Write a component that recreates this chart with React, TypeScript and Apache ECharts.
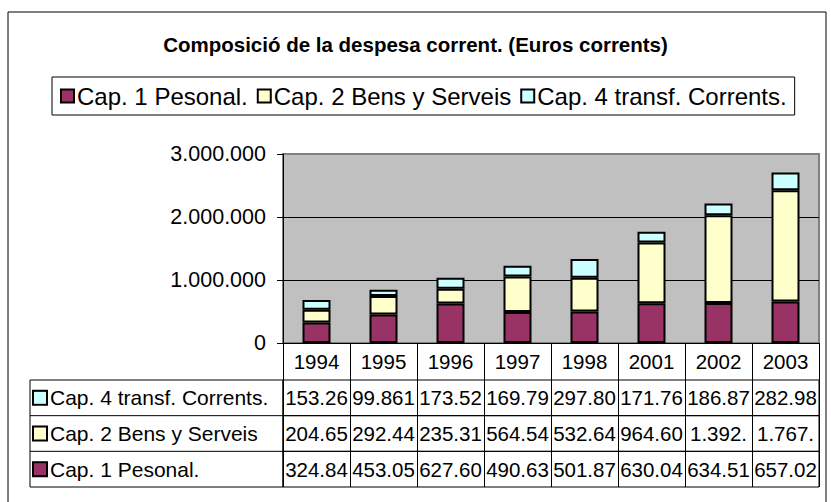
import React, { useEffect, useRef } from 'react';
import * as echarts from 'echarts';

const years = ['1994', '1995', '1996', '1997', '1998', '2001', '2002', '2003'];
const personal = [324845, 453052, 627604, 490635, 501873, 630042, 634515, 657024];
const bens = [204653, 292446, 235314, 564542, 532647, 964605, 1392500, 1767500];
const transf = [153264, 99861, 173525, 169795, 297806, 171768, 186876, 282984];
const seriesNames = ['Cap. 1 Pesonal.', 'Cap. 2 Bens y Serveis', 'Cap. 4 transf. Corrents.'];
const seriesColors = ['#993366', '#FFFFCC', '#CCFFFF'];
const yMax = 3000000;
const yStep = 1000000;
const titleText = 'Composició de la despesa corrent. (Euros corrents)';

const FONT = "'Liberation Sans', Arial, sans-serif";
const fmt = (v: number) => String(Math.round(v)).replace(/\B(?=(\d{3})+(?!\d))/g, '.');
const cellText = (v: number) => fmt(v).slice(0, 6);

export default function App() {
  const ref = useRef<HTMLDivElement>(null);
  useEffect(() => {
    if (!ref.current) return;
    const chart = echarts.init(ref.current, null, { renderer: 'svg' });
    const PL = 283, PW = 536, PT = 154, PH = 189;
    const rowTop0 = 380, rowH = 35.67;
    const labelLeft = 30;
    const seriesData = [personal, bens, transf];
    const tableRows = [2, 1, 0].map((k) => ({ name: seriesNames[k], color: seriesColors[k], data: seriesData[k] }));

    const option: any = {
      animation: false,
      backgroundColor: '#fff',
      textStyle: { fontFamily: FONT },
      title: {
        text: titleText,
        left: 'center',
        top: 34,
        padding: 0,
        textStyle: { fontSize: 20.5, fontWeight: 'bold', fontFamily: FONT, color: '#000' },
      },
      legend: {
        data: seriesNames,
        left: 52,
        top: 77,
        padding: [7, 8, 7, 8],
        itemWidth: 13,
        itemHeight: 13,
        itemGap: 9,
        icon: 'rect',
        borderColor: '#000',
        borderWidth: 1,
        textStyle: { fontSize: 24, fontFamily: FONT, color: '#000', padding: [0, 0, 0, -2] },
      },
      grid: [
        { left: PL, top: PT, width: PW, height: PH, show: true, backgroundColor: '#C0C0C0', borderColor: '#808080', borderWidth: 2 },
        ...tableRows.map((_, i) => ({
          left: PL, top: rowTop0 + i * rowH, width: PW, height: rowH,
          show: true, borderColor: '#000', borderWidth: 1, backgroundColor: 'transparent',
        })),
      ],
      xAxis: [
        {
          type: 'category', gridIndex: 0, data: years,
          axisLine: { show: true, lineStyle: { color: '#000', width: 1 } },
          axisTick: { show: true, length: 37, interval: 0, lineStyle: { color: '#000', width: 1 } },
          axisLabel: { interval: 0, color: '#000', fontSize: 20.5, fontFamily: FONT, margin: 18.5, verticalAlign: 'middle' },
        },
        ...tableRows.map((r, i) => ({
          type: 'category', gridIndex: i + 1, data: years,
          axisLine: { show: false }, axisTick: { show: false },
          splitLine: { show: true, interval: 0, lineStyle: { color: '#000', width: 1 } },
          axisLabel: {
            inside: true, interval: 0, margin: rowH / 2, verticalAlign: 'middle',
            color: '#000', fontSize: 20.5, fontFamily: FONT,
            formatter: (_v: string, idx: number) => cellText(r.data[idx]),
          },
        })),
      ],
      yAxis: [
        {
          type: 'value', gridIndex: 0, min: 0, max: yMax, interval: yStep,
          axisLine: { show: true, lineStyle: { color: '#000', width: 1 } },
          axisTick: { show: true, length: 6, lineStyle: { color: '#000' } },
          splitLine: { show: true, showMaxLine: false, showMinLine: false, lineStyle: { color: '#000', width: 1 } },
          axisLabel: { formatter: (v: number) => fmt(v), color: '#000', fontSize: 21.5, fontFamily: FONT, margin: 17 },
        },
        ...tableRows.map((r, i) => ({
          type: 'category', gridIndex: i + 1, data: [r.name],
          axisLine: { show: false }, axisTick: { show: false }, splitLine: { show: false },
          axisLabel: {
            align: 'left', margin: PL - 34,
            formatter: () => `{sq|}{t|${r.name}}`,
            rich: {
              sq: { width: 12, height: 12, backgroundColor: r.color, borderColor: '#000', borderWidth: 2 },
              t: { fontSize: 21, fontFamily: FONT, color: '#000', padding: [0, 0, 0, 4] },
            },
          },
        })),
      ],
      graphic: [
        { type: 'rect', shape: { x: 8, y: 12, width: 818, height: 520 }, style: { fill: 'none', stroke: '#000', lineWidth: 1 }, z: 100 },
        { type: 'rect', shape: { x: labelLeft, y: rowTop0, width: PL - labelLeft, height: rowH * 3 }, style: { fill: 'none', stroke: '#000', lineWidth: 1 }, z: 100 },
        { type: 'line', shape: { x1: labelLeft, y1: rowTop0 + rowH, x2: PL, y2: rowTop0 + rowH }, style: { stroke: '#000', lineWidth: 1 }, z: 100 },
        { type: 'line', shape: { x1: labelLeft, y1: rowTop0 + 2 * rowH, x2: PL, y2: rowTop0 + 2 * rowH }, style: { stroke: '#000', lineWidth: 1 }, z: 100 },
      ],
      series: seriesData.map((d, i) => ({
        type: 'bar', name: seriesNames[i], stack: 'total', data: d,
        xAxisIndex: 0, yAxisIndex: 0, barWidth: 28,
        itemStyle: { color: seriesColors[i], borderColor: '#000', borderWidth: 2 },
      })),
    };
    chart.setOption(option);
    return () => chart.dispose();
  }, []);
  return <div ref={ref} style={{ position: 'fixed', left: 0, top: 0, width: 831, height: 502 }} />;
}
